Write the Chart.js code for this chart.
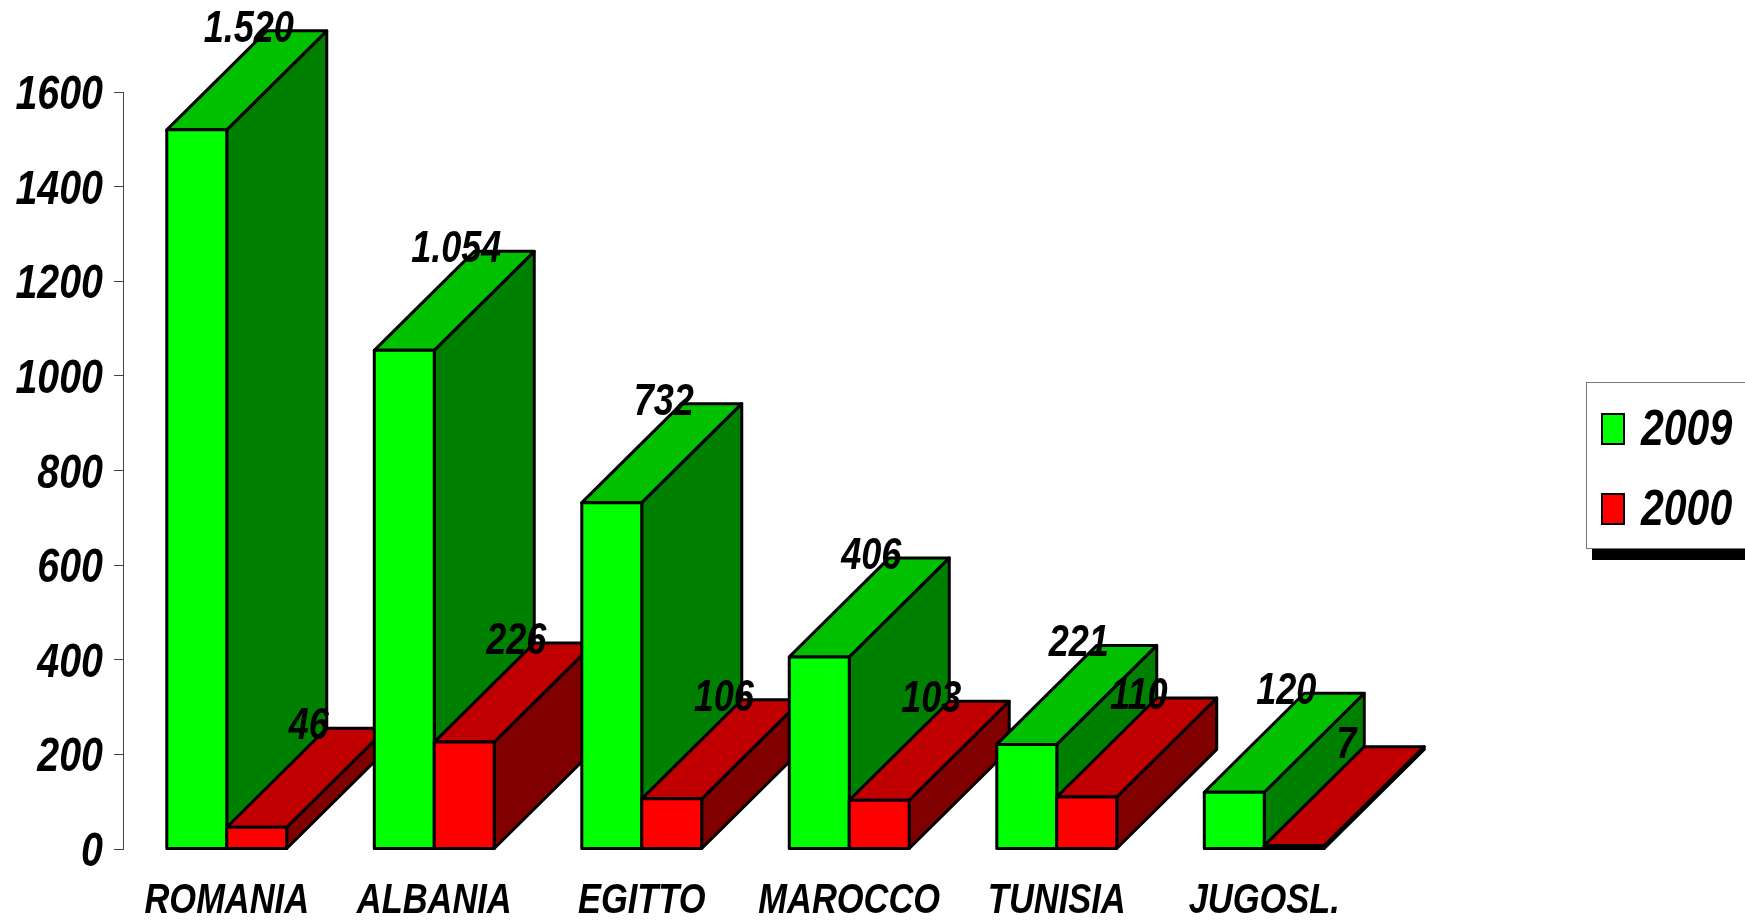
<!DOCTYPE html>
<html>
<head>
<meta charset="utf-8">
<script src="https://cdn.jsdelivr.net/npm/chart.js@4.4.1/dist/chart.umd.min.js"></script>
<style>
  html, body { margin: 0; padding: 0; background: #fff; overflow: hidden; }
  #wrap { position: relative; width: 1745px; height: 920px; }
  #legend {
    position: absolute; left: 1586px; top: 382px; width: 200px; height: 165px;
    border: 1px solid #777; background: #fff; box-shadow: 6px 11px 0 #000;
    font: italic bold 50px 'Liberation Sans', Arial, sans-serif;
  }
  .item { position: absolute; left: 14px; height: 40px; line-height: 40px; white-space: nowrap; }
  .sw { position: absolute; left: 0; top: 5px; width: 20px; height: 28px; border: 2px solid #000; }
  .lbl { position: absolute; left: 40px; top: 0; display: inline-block; transform: scaleX(0.82); transform-origin: left center; }
</style>
</head>
<body>
<div id="wrap">
  <canvas id="chart" width="1745" height="920"></canvas>
  <div id="legend">
    <div class="item" style="top:25px"><div class="sw" style="background:#00ff00"></div><span class="lbl">2009</span></div>
    <div class="item" style="top:105px"><div class="sw" style="background:#ff0000"></div><span class="lbl">2000</span></div>
  </div>
</div>
<script>
// data
const countries = ['ROMANIA', 'ALBANIA', 'EGITTO', 'MAROCCO', 'TUNISIA', 'JUGOSL.'];
const values2009 = [1520, 1054, 732, 406, 221, 120];
const values2000 = [46, 226, 106, 103, 110, 7];
const yMax = 1600;
const yStep = 200;

// no narrow font installed, so text is squeezed horizontally to look like Arial Narrow
const FONT = "'Liberation Sans', Arial, sans-serif";
const NARROW = 0.82;

// colours for the three visible faces of each box
const faces = [
  { front: '#00ff00', top: '#00c000', side: '#008000' },
  { front: '#ff0000', top: '#c00000', side: '#800000' }
];
const DX = 100, DY = -99; // depth offset of the 3d boxes

function fmt(n) {
  return String(n).replace(/\B(?=(\d{3})+(?!\d))/g, '.');
}

function face(ctx, pts, color) {
  ctx.beginPath();
  ctx.moveTo(pts[0][0], pts[0][1]);
  for (let k = 1; k < pts.length; k++) ctx.lineTo(pts[k][0], pts[k][1]);
  ctx.closePath();
  ctx.fillStyle = color;
  ctx.fill();
  ctx.stroke();
}

function narrowText(ctx, text, x, y, size, align) {
  ctx.save();
  ctx.font = 'italic bold ' + size + 'px ' + FONT;
  ctx.textAlign = align;
  ctx.textBaseline = 'alphabetic';
  ctx.translate(x, y);
  ctx.scale(NARROW, 1);
  ctx.fillText(text, 0, 0);
  ctx.restore();
}

// draws the boxes category by category so the overlaps come out right
const bars3d = {
  id: 'bars3d',
  beforeDatasetDraw() { return false; },
  afterDatasetsDraw(chart) {
    const ctx = chart.ctx;
    const metas = chart.data.datasets.map((d, i) => chart.getDatasetMeta(i));
    ctx.save();
    ctx.lineWidth = 3;
    ctx.lineJoin = 'round';
    ctx.strokeStyle = '#000';
    for (let i = 0; i < countries.length; i++) {
      metas.forEach((m, di) => {
        const b = m.data[i];
        const c = faces[di];
        const l = b.x - b.width / 2, r = b.x + b.width / 2, t = b.y, bot = b.base;
        face(ctx, [[r, t], [r + DX, t + DY], [r + DX, bot + DY], [r, bot]], c.side);
        face(ctx, [[l, t], [r, t], [r + DX, t + DY], [l + DX, t + DY]], c.top);
        face(ctx, [[l, t], [r, t], [r, bot], [l, bot]], c.front);
      });
    }
    ctx.fillStyle = '#000';
    metas.forEach((m, di) => {
      const data = chart.data.datasets[di].data;
      m.data.forEach((b, i) => {
        const l = b.x - b.width / 2;
        narrowText(ctx, fmt(data[i]), l + DX - 18, b.y + DY + 11, 44, 'center');
      });
    });
    ctx.restore();
  },
  // axis labels, placed from the scales' own ticks
  afterDraw(chart) {
    const ctx = chart.ctx;
    ctx.save();
    ctx.fillStyle = '#000';
    const ys = chart.scales.y;
    ys.ticks.forEach((t, i) => {
      narrowText(ctx, String(t.value), 103, ys.getPixelForTick(i) + 17, 48, 'right');
    });
    const xs = chart.scales.x;
    xs.ticks.forEach((t, i) => {
      narrowText(ctx, countries[i], xs.getPixelForTick(i), 913, 42, 'center');
    });
    ctx.restore();
  }
};

const ctx = document.getElementById('chart').getContext('2d');
const chart = new Chart(ctx, {
  type: 'bar',
  data: {
    labels: countries,
    datasets: [
      { label: '2009', data: values2009, backgroundColor: faces[0].front },
      { label: '2000', data: values2000, backgroundColor: faces[1].front }
    ]
  },
  options: {
    responsive: false,
    animation: false,
    devicePixelRatio: 1,
    layout: { padding: { top: 92, right: 377, left: 0, bottom: 0 } },
    datasets: { bar: { barPercentage: 1, categoryPercentage: 0.578 } },
    plugins: { legend: { display: false }, tooltip: { enabled: false } },
    scales: {
      x: {
        grid: { display: false, drawTicks: false },
        border: { display: false },
        ticks: { display: false, autoSkip: false, maxRotation: 0 },
        afterFit: s => { s.height = 71; }
      },
      y: {
        min: 0,
        max: yMax,
        grid: { drawOnChartArea: false, tickLength: 9, color: '#444' },
        border: { display: true, color: '#444', width: 1 },
        ticks: { display: false, stepSize: yStep },
        afterFit: s => { s.width = 123; }
      }
    }
  },
  plugins: [bars3d]
});
</script>
</body>
</html>
